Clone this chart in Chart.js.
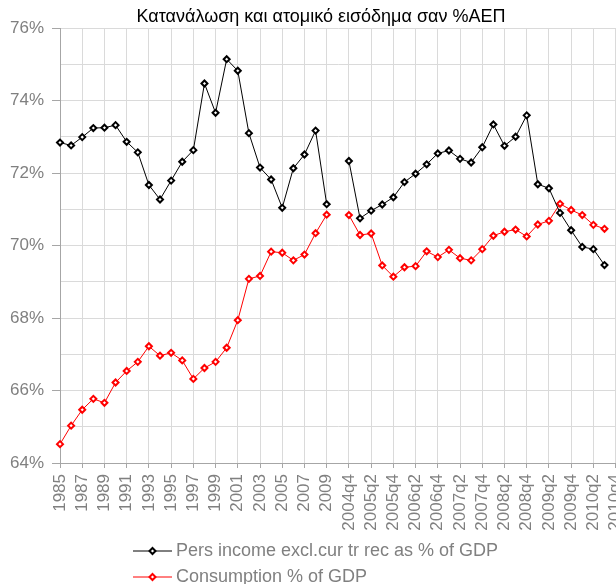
<!DOCTYPE html>
<html>
<head>
<meta charset="utf-8">
<script src="https://cdn.jsdelivr.net/npm/chart.js@4/dist/chart.umd.min.js"></script>
<style>
  html, body { margin: 0; padding: 0; background: #fff; overflow: hidden; }
  canvas { display: block; }
</style>
</head>
<body>
<canvas id="chart" width="642" height="584"></canvas>
<script>
// Categories: yearly 1985-2009, an empty slot, then quarters 2004q4-2010q4
const years = [];
for (let y = 1985; y <= 2009; y++) years.push(String(y));
const quarters = ["2004q4",
  "2005q1", "2005q2", "2005q3", "2005q4",
  "2006q1", "2006q2", "2006q3", "2006q4",
  "2007q1", "2007q2", "2007q3", "2007q4",
  "2008q1", "2008q2", "2008q3", "2008q4",
  "2009q1", "2009q2", "2009q3", "2009q4",
  "2010q1", "2010q2", "2010q3", "2010q4"];
const categories = [...years, "", ...quarters];

// Pers income excl. current transfers received, % of GDP
const incomeYearly = [72.84, 72.76, 72.99, 73.24, 73.25, 73.32, 72.86, 72.57, 71.67, 71.27,
  71.79, 72.31, 72.63, 74.47, 73.66, 75.14, 74.82, 73.10, 72.15, 71.82,
  71.04, 72.13, 72.51, 73.17, 71.14];
const incomeQuarterly = [72.33, 70.75, 70.96, 71.13, 71.33, 71.75, 71.98, 72.24, 72.54, 72.62,
  72.39, 72.29, 72.71, 73.34, 72.75, 73.00, 73.59, 71.69, 71.58, 70.90,
  70.42, 69.96, 69.90, 69.46, null];

// Consumption, % of GDP
const consYearly = [64.52, 65.03, 65.47, 65.77, 65.66, 66.22, 66.54, 66.79, 67.22, 66.96,
  67.04, 66.83, 66.32, 66.62, 66.79, 67.18, 67.94, 69.08, 69.16, 69.83,
  69.80, 69.59, 69.75, 70.34, 70.85];
const consQuarterly = [70.84, 70.29, 70.33, 69.45, 69.14, 69.40, 69.43, 69.84, 69.68, 69.88,
  69.65, 69.59, 69.90, 70.27, 70.38, 70.44, 70.25, 70.58, 70.68, 71.15,
  70.98, 70.84, 70.57, 70.46, null];

const seriesNames = ["Pers income excl.cur tr rec as % of GDP", "Consumption % of GDP"];
const seriesColors = ["#000000", "#ff0000"];

const gridGray = "#dadada";
const axisGray = "#a6a6a6";
const textGray = "#808080";

Chart.defaults.font.family = "'Liberation Sans', Arial, sans-serif";

// Legend drawn as line + marker rows under the axis
const lineLegend = {
  id: "lineLegend",
  afterDraw(chart) {
    const ctx = chart.ctx;
    chart.data.datasets.forEach((ds, i) => {
      const y = chart.height - 33 + i * 26;
      ctx.save();
      ctx.strokeStyle = ds.borderColor;
      ctx.lineWidth = 1;
      ctx.beginPath();
      ctx.moveTo(133, y);
      ctx.lineTo(172, y);
      ctx.stroke();
      ctx.fillStyle = "#ffffff";
      ctx.lineWidth = 2;
      Chart.helpers.drawPoint(ctx, { pointStyle: "rectRot", radius: 3, borderWidth: 2 }, 152.5, y);
      ctx.fillStyle = textGray;
      ctx.font = "18px 'Liberation Sans', Arial, sans-serif";
      ctx.textBaseline = "middle";
      ctx.textAlign = "left";
      ctx.fillText(ds.label, 176, y);
      ctx.restore();
    });
  }
};

function makeSeries(name, color, yearly, quarterly) {
  return {
    label: name,
    data: [...yearly, null, ...quarterly],
    borderColor: color,
    borderWidth: 1,
    backgroundColor: "#ffffff",
    pointStyle: "rectRot",
    pointRadius: 3,
    pointBorderWidth: 2,
    pointBackgroundColor: "#ffffff",
    pointBorderColor: color,
    tension: 0,
    spanGaps: false,
    clip: false
  };
}

new Chart(document.getElementById("chart"), {
  type: "line",
  data: {
    labels: categories,
    datasets: [
      makeSeries(seriesNames[0], seriesColors[0], incomeYearly, incomeQuarterly),
      makeSeries(seriesNames[1], seriesColors[1], consYearly, consQuarterly)
    ]
  },
  options: {
    responsive: false,
    animation: false,
    devicePixelRatio: 1,
    layout: { padding: { left: 0, right: 0, top: 0, bottom: 46 } },
    plugins: {
      legend: { display: false },
      tooltip: { enabled: false },
      title: {
        display: true,
        text: "Κατανάλωση και ατομικό εισόδημα σαν %ΑΕΠ",
        color: "#000000",
        font: { size: 18, weight: "normal" },
        padding: { top: 6, bottom: 0.4 }
      }
    },
    scales: {
      x: {
        offset: false,
        afterFit: s => { s.height = 75; },
        border: { color: axisGray },
        grid: {
          color: c => (c.index % 2 === 0 ? gridGray : "transparent"),
          tickColor: c => (c.index % 2 === 0 ? axisGray : "transparent"),
          tickLength: 5
        },
        ticks: {
          autoSkip: false,
          minRotation: 90,
          maxRotation: 90,
          padding: 6,
          color: textGray,
          font: { size: 17 },
          callback: (v, i) => (i % 2 === 0 ? categories[i] : "")
        }
      },
      y: {
        min: 64,
        max: 76,
        afterFit: s => { s.width = 60; },
        border: { color: axisGray },
        grid: {
          color: gridGray,
          tickColor: c => (c.tick.value % 2 === 0 ? axisGray : "transparent"),
          tickLength: 8
        },
        ticks: {
          stepSize: 1,
          padding: 8,
          color: textGray,
          font: { size: 17 },
          callback: v => (v % 2 === 0 ? v + "%" : "")
        }
      },
      // empty right margin so the plot runs past the window edge like the original
      yRight: {
        position: "right",
        min: 64,
        max: 76,
        afterFit: s => { s.width = 23.5; },
        border: { display: false },
        grid: { display: false, drawTicks: false },
        ticks: { display: false }
      }
    }
  },
  plugins: [lineLegend]
});
</script>
</body>
</html>
